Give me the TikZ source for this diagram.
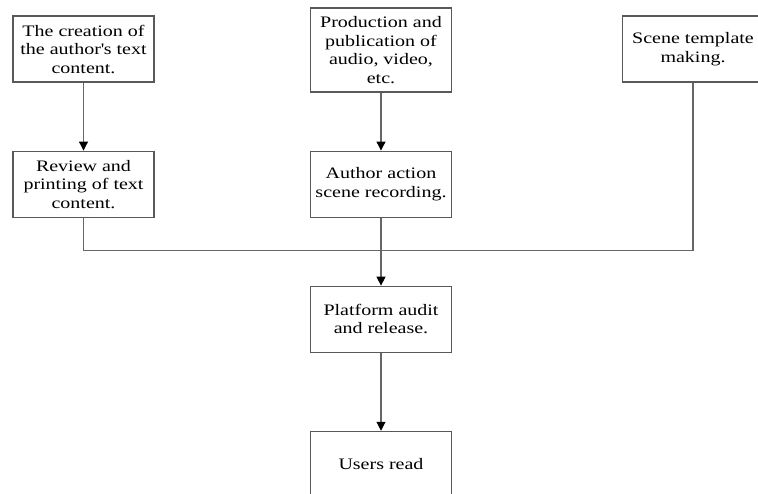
\documentclass[tikz,border=0pt]{standalone}
\usepackage{fontspec}
\setmainfont{Liberation Serif}[FakeStretch=1.25]
\usepackage{tikz}
\usetikzlibrary{arrows.meta,positioning}

\tikzset{
  stage/.style={draw=black!65, line width=1.1pt, fill=white,
    minimum width=141pt, minimum height=66pt, inner sep=2pt,
    align=center, font=\fontsize{16}{18.5}\selectfont},
  link/.style={draw=black!60, line width=1.1pt},
  tip/.style={-{Triangle[width=9pt,length=9pt,black]}}
}

\begin{document}
\begin{tikzpicture}[x=1pt,y=-1pt]
        \path[use as bounding box,clip] (0,0) rectangle (758,494);

        % Left column
        \node[stage] (creation) at (83.5,49) {The creation of\\the author\textquotesingle s text\\content.};

        \node[stage,
        below=68pt of creation] (review) {Review and\\printing of text\\content.};

        % Middle column
        \node[stage,
        minimum height=84pt] (production) at (381,50) {Production and\\publication of\\audio, video,\\etc.};

        \node[stage,
        below=58pt of production] (recording) {Author action\\scene recording.};

        % Right column
        \node[stage] (template) at (693,49) {Scene template\\making.};

        % Release and reading
        \node[stage,
        below=68pt of recording] (audit) {Platform audit\\and release.};

        \node[stage,
        below=78pt of audit] (read) {Users read};

        \coordinate (join) at (381,250.5);

        % Arrows
        \draw[link,tip] (creation) -- (review);
        \draw[link,tip] (production) -- (recording);
        \draw[link] (review) |- (join);
        \draw[link] (template) |- (join);
        \draw[link,tip] (recording) -- (audit);
        \draw[link,tip] (audit) -- (read);
    \end{tikzpicture}
\end{document}
